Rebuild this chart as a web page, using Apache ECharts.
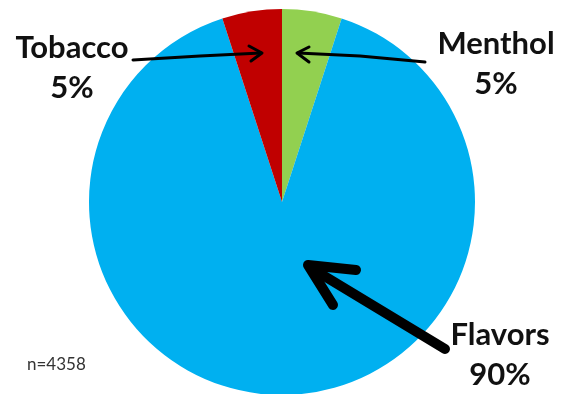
<!DOCTYPE html>
<html>
<head>
<meta charset="utf-8">
<title>Flavor pie</title>
<script src="https://cdn.jsdelivr.net/npm/echarts@6/dist/echarts.min.js"></script>
<style>
	html, body { margin: 0; padding: 0; background: #fff; }
	#main { width: 561px; height: 394px; }
</style>
</head>
<body>
<div id="main"></div>
<script>
// data
var categories = ['Menthol', 'Flavors', 'Tobacco'];
var shares = [5, 90, 5];
var colors = ['#92D050', '#00B0F0', '#C00000'];
var sampleNote = 'n=4358';

var myChart = echarts.init(document.getElementById('main'));

function labelText(i) {
	return categories[i] + '\n' + shares[i] + '%';
}

var labelFont = {
	fontFamily: 'Lato',
	fontWeight: 'bold',
	fontSize: 31,
	fill: '#111',
	align: 'center',
	verticalAlign: 'middle',
	lineHeight: 40
};

function bigText(x, y, i) {
	return {
		type: 'text',
		x: x,
		y: y,
		z: 100,
		style: Object.assign({ text: labelText(i) }, labelFont)
	};
}

// arrows sit on top of the pie
function arrowLine(points, width) {
	return {
		type: 'polyline',
		z: 100,
		shape: { points: points },
		style: { stroke: '#000', lineWidth: width, fill: null, lineCap: 'round', lineJoin: 'round' }
	};
}

var option = {
	backgroundColor: '#fff',
	animation: false,
	series: [{
		type: 'pie',
		center: [282, 202],
		radius: 193,
		startAngle: 90,
		clockwise: true,
		label: { show: false },
		labelLine: { show: false },
		itemStyle: { borderWidth: 0 },
		data: categories.map(function(c, i) {
			return { name: c, value: shares[i], itemStyle: { color: colors[i] } };
		})
	}],
	graphic: [
		// labels
		bigText(72, 68, 2),
		bigText(496, 64, 0),
		bigText(500, 355, 1),
		{
			type: 'text',
			x: 27,
			y: 365,
			z: 100,
			style: { text: sampleNote, fontFamily: 'Lato', fontSize: 17, fill: '#333', verticalAlign: 'middle' }
		},
		// tobacco arrow
		arrowLine([[133, 60], [200, 56], [261, 53]], 3),
		arrowLine([[249, 46], [262, 53], [251, 61]], 3),
		// menthol arrow
		arrowLine([[425, 62], [360, 56], [298, 53]], 3),
		arrowLine([[309, 47], [297, 53], [309, 62]], 3),
		// flavors arrow
		arrowLine([[445, 349], [311, 268]], 10),
		arrowLine([[356, 270], [308, 265], [333, 305]], 10)
	]
};

myChart.setOption(option);
</script>
</body>
</html>
